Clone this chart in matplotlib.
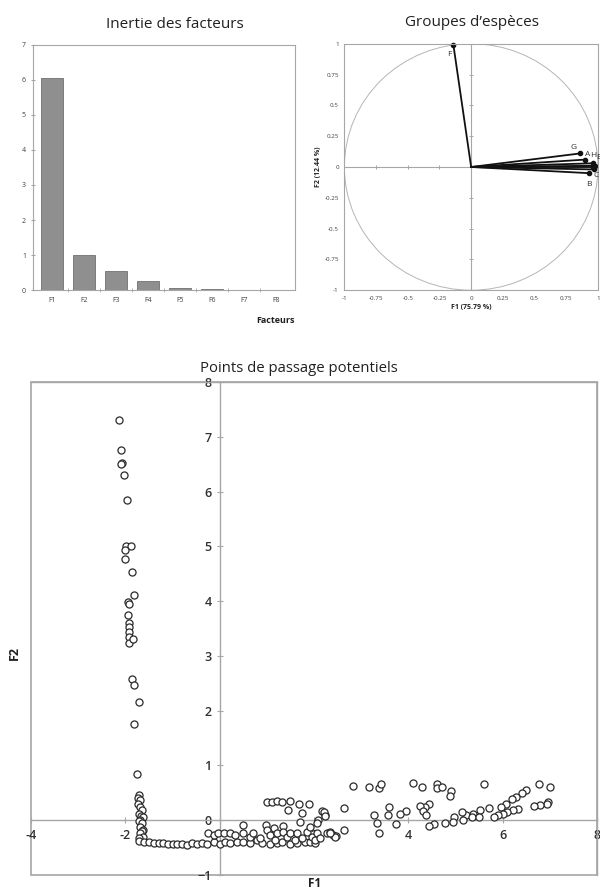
import matplotlib.pyplot as plt
from matplotlib.patches import Circle, Rectangle

plt.rcParams['font.family'] = ['Open Sans', 'DejaVu Sans']

GREY = '#a6a6a6'
TXT = '#404040'

# --- data ---
facteurs = ['F1', 'F2', 'F3', 'F4', 'F5', 'F6', 'F7', 'F8']
inertie = [6.05, 1.0, 0.55, 0.25, 0.05, 0.03, 0.015, 0.005]

especes = ['A', 'B', 'C', 'D', 'E', 'F', 'G', 'H']
corr_f1 = [0.90, 0.93, 0.97, 0.96, 0.98, -0.14, 0.86, 0.96]
corr_f2 = [0.06, -0.05, -0.02, 0.00, 0.01, 0.99, 0.11, 0.03]
# label positions (data units), None = hidden behind the others
lab_x = [0.895, 0.91, 0.965, None, 0.985, -0.19, 0.78, 0.94]
lab_y = [0.10, -0.14, -0.07, None, 0.075, 0.91, 0.16, 0.095]

pts = [
    (-2.13, 7.30), (-2.10, 6.75), (-2.07, 6.52), (-2.10, 6.50), (-2.03, 6.30),
    (-1.96, 5.84), (-1.99, 5.01), (-1.88, 5.00), (-2.01, 4.93), (-2.00, 4.77),
    (-1.86, 4.53), (-1.82, 4.12), (-1.95, 3.98), (-1.92, 3.95), (-1.94, 3.74),
    (-1.93, 3.60), (-1.93, 3.52), (-1.92, 3.43), (-1.93, 3.35), (-1.92, 3.24),
    (-1.85, 3.31), (-1.86, 2.57), (-1.83, 2.46), (-1.71, 2.15), (-1.81, 1.76),
    (-1.75, 0.84),
    (-1.72, 0.46), (-1.74, 0.40), (-1.70, 0.36), (-1.74, 0.30), (-1.69, 0.24),
    (-1.65, 0.18), (-1.72, 0.12), (-1.67, 0.08), (-1.62, 0.06), (-1.69, 0.00),
    (-1.72, -0.02), (-1.65, -0.06), (-1.70, -0.12), (-1.63, -0.18), (-1.66, -0.20),
    (-1.69, -0.24), (-1.62, -0.30), (-1.72, -0.33),
    (-1.72, -0.38), (-1.60, -0.40), (-1.50, -0.40), (-1.40, -0.41), (-1.30, -0.42),
    (-1.20, -0.42), (-1.10, -0.43), (-1.00, -0.43), (-0.90, -0.44), (-0.80, -0.44),
    (-0.70, -0.45),
    (-0.59, -0.41), (-0.49, -0.43), (-0.38, -0.41), (-0.28, -0.43), (-0.13, -0.40),
    (0.01, -0.43), (0.11, -0.40), (0.22, -0.41), (0.36, -0.40), (0.50, -0.40),
    (0.64, -0.41), (0.78, -0.36), (0.89, -0.41), (1.07, -0.43), (1.21, -0.41),
    (1.31, -0.40), (1.49, -0.43), (1.63, -0.41), (1.81, -0.40), (1.91, -0.40),
    (2.02, -0.41),
    (-0.24, -0.23), (-0.13, -0.27), (-0.03, -0.23), (0.08, -0.24), (0.22, -0.23),
    (0.32, -0.27), (0.49, -0.09), (0.50, -0.23), (0.63, -0.30), (0.71, -0.24),
    (0.85, -0.33), (0.98, -0.09), (1.01, -0.18), (1.07, -0.27), (1.14, -0.15),
    (1.17, -0.36), (1.22, -0.23), (1.33, -0.11), (1.35, -0.21), (1.42, -0.30),
    (1.49, -0.23), (1.60, -0.36), (1.63, -0.24), (1.74, -0.33), (1.84, -0.21),
    (1.95, -0.30), (2.02, -0.36), (2.06, -0.24), (2.13, -0.33), (2.27, -0.23),
    (2.41, -0.27),
    (1.00, 0.34), (1.10, 0.34), (1.21, 0.35), (1.31, 0.34), (1.49, 0.35),
    (1.67, 0.30), (1.89, 0.30), (1.45, 0.19), (1.74, 0.13), (1.70, -0.04),
    (1.91, -0.12), (2.16, 0.17), (2.23, 0.09), (2.09, 0.00), (2.06, -0.05),
    (2.34, -0.21), (2.46, -0.29),
    (2.83, 0.62), (3.17, 0.61), (3.38, 0.59), (3.42, 0.66), (4.10, 0.68),
    (4.28, 0.61), (4.61, 0.66), (4.60, 0.58), (4.72, 0.61), (4.90, 0.53),
    (4.88, 0.44), (5.60, 0.66), (6.77, 0.66), (7.00, 0.61), (6.50, 0.56),
    (6.40, 0.49), (6.29, 0.43), (6.19, 0.38), (6.08, 0.30), (5.96, 0.24),
    (6.96, 0.33), (6.93, 0.29), (6.80, 0.27), (6.66, 0.26), (6.33, 0.21),
    (6.21, 0.18), (6.10, 0.15), (6.00, 0.12), (5.90, 0.09), (5.81, 0.06),
    (5.71, 0.23), (5.51, 0.18), (5.37, 0.12), (5.23, 0.09), (5.13, 0.15),
    (4.97, 0.06), (4.95, -0.03), (5.16, 0.00), (5.34, 0.05), (5.50, 0.06),
    (4.77, -0.05), (4.55, -0.07), (4.44, -0.11), (4.44, 0.29), (4.35, 0.24),
    (4.25, 0.26), (4.31, 0.17), (4.37, 0.09), (3.95, 0.16), (3.83, 0.12),
    (3.74, -0.07), (3.58, 0.24), (3.57, 0.10), (3.28, 0.09), (3.33, -0.05),
    (3.38, -0.23), (2.63, 0.23), (2.63, -0.17), (2.44, -0.30), (2.34, -0.24),
    (2.20, 0.15), (2.23, 0.07),
]
f1 = [p[0] for p in pts]
f2 = [p[1] for p in pts]

fig = plt.figure(figsize=(6, 8.93), dpi=100)

# --- bar chart ---
ax1 = fig.add_axes([0.055, 0.675, 0.437, 0.275])
x = range(len(facteurs))
ax1.bar(x, inertie, width=0.68, color='#8f8f8f', edgecolor='#707070', linewidth=0.6)
ax1.set_xlim(-0.6, 7.6)
ax1.set_ylim(0, 7)
ax1.set_xticks(list(x))
ax1.set_xticklabels(facteurs)
ax1.set_xticks([i + 0.5 for i in x][:-1], minor=True)
ax1.tick_params(axis='x', which='major', length=0, labelsize=5, colors=TXT, pad=5)
ax1.tick_params(axis='x', which='minor', length=3, direction='inout', color=GREY)
ax1.tick_params(axis='y', labelsize=5, colors=TXT, length=3, direction='inout', color=GREY)
for s in ax1.spines.values():
    s.set_color(GREY)
    s.set_linewidth(0.8)
ax1.text(1.0, -0.105, 'Facteurs', transform=ax1.transAxes, ha='right', va='top',
         fontsize=6.5, fontweight='bold', color='#202020')
fig.text(175 / 600, 1 - 25 / 893, 'Inertie des facteurs', ha='center', va='center',
         fontsize=11, color='#202020')

# --- correlation circle ---
ax2 = fig.add_axes([0.574, 0.675, 0.4225, 0.276])
ax2.set_xlim(-1, 1)
ax2.set_ylim(-1, 1)
ax2.add_patch(Circle((0, 0), 1, fill=False, ec='#b5b5b5', lw=0.7))
ax2.axhline(0, color=GREY, lw=0.8)
ax2.axvline(0, color=GREY, lw=0.8)
ticks = [-1, -0.75, -0.5, -0.25, 0, 0.25, 0.5, 0.75, 1]
ax2.plot(ticks[1:-1], [0] * 7, ls='none', marker='|', ms=3, color=GREY, mew=0.7)
ax2.plot([0] * 7, ticks[1:-1], ls='none', marker='_', ms=3, color=GREY, mew=0.7)
ax2.set_xticks(ticks)
ax2.set_yticks(ticks)
ax2.set_xticklabels(['-1', '-0.75', '-0.5', '-0.25', '0', '0.25', '0.5', '0.75', '1'])
ax2.set_yticklabels(['-1', '-0.75', '-0.5', '-0.25', '0', '0.25', '0.5', '0.75', '1'])
ax2.tick_params(labelsize=4.5, colors=TXT, length=0, pad=4)
for s in ax2.spines.values():
    s.set_color(GREY)
    s.set_linewidth(0.8)
for i, e in enumerate(especes):
    ax2.plot([0, corr_f1[i]], [0, corr_f2[i]], color='#111111', lw=1.3)
    ax2.plot(corr_f1[i], corr_f2[i], 'o', color='#111111', ms=3, clip_on=False)
    if lab_x[i] is not None:
        ax2.text(lab_x[i], lab_y[i], e, fontsize=6, color='#303030',
                 ha='left', va='center', clip_on=False)
ax2.set_xlabel('F1 (75.79 %)', fontsize=5, fontweight='bold', color='#202020', labelpad=2)
ax2.set_ylabel('F2 (12.44 %)', fontsize=5, fontweight='bold', color='#202020', labelpad=2)
fig.text(472 / 600, 1 - 22 / 893, "Groupes d\u2019esp\u00e8ces", ha='center', va='center',
         fontsize=11, color='#202020')

# --- scatter of potential passage points ---
ax3 = fig.add_axes([0.052, 0.0202, 0.943, 0.552])
ax3.scatter(f1, f2, s=26, facecolor='white', edgecolor='#2a2a2a', linewidth=0.9, zorder=3)
ax3.set_xlim(-4, 8)
ax3.set_ylim(-1, 8)
ax3.spines['left'].set_position(('data', 0))
ax3.spines['bottom'].set_position(('data', 0))
for s in ax3.spines.values():
    s.set_color(GREY)
    s.set_linewidth(1.0)
ax3.add_patch(Rectangle((0, 0), 1, 1, transform=ax3.transAxes, fill=False,
                        ec=GREY, lw=1.2, clip_on=False))
ax3.set_xticks([-4, -2, 0, 2, 4, 6, 8])
ax3.set_xticklabels(['-4', '-2', '', '2', '4', '6', '8'])
ax3.set_yticks(range(-1, 9))
ax3.tick_params(labelsize=9, colors='#303030', length=5, direction='inout', color=GREY, width=0.8)
for lab in ax3.get_xticklabels() + ax3.get_yticklabels():
    lab.set_fontweight('semibold')
ax3.text(0.5, -0.004, 'F1', transform=ax3.transAxes, ha='center', va='top',
         fontsize=8.5, fontweight='bold', color='#202020')
ax3.text(-0.03, 0.45, 'F2', transform=ax3.transAxes, ha='center', va='center',
         rotation=90, fontsize=9, fontweight='bold', color='#202020')
fig.text(299 / 600, 1 - 368 / 893, 'Points de passage potentiels', ha='center', va='center',
         fontsize=10.7, color='#202020')

fig.savefig('out.png', dpi=100)
